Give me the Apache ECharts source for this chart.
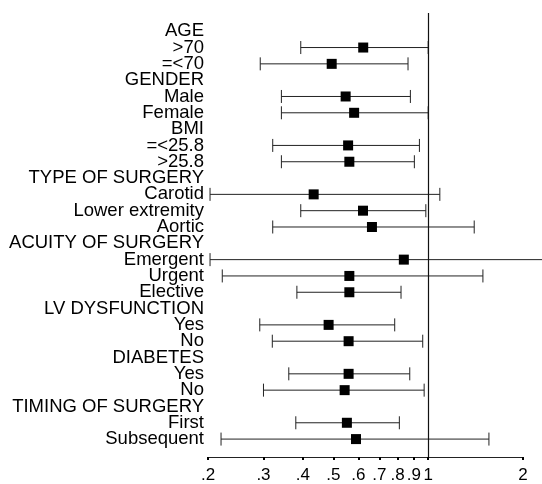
<!DOCTYPE html>
<html lang="en">
<head>
    <meta charset="UTF-8">
    <title>Forest plot</title>
    <script src="https://cdn.jsdelivr.net/npm/echarts@6/dist/echarts.min.js"></script>
    <style>
        html, body { margin: 0; padding: 0; background: #fff; }
        #main { width: 542px; height: 484px; }
    </style>
</head>
<body>
    <div id="main"></div>
    <script>
        // row labels, top to bottom
        var rowLabels = ['AGE', '>70', '=<70', 'GENDER', 'Male', 'Female', 'BMI', '=<25.8', '>25.8',
            'TYPE OF SURGERY', 'Carotid', 'Lower extremity', 'Aortic', 'ACUITY OF SURGERY',
            'Emergent', 'Urgent', 'Elective', 'LV DYSFUNCTION', 'Yes', 'No', 'DIABETES', 'Yes', 'No',
            'TIMING OF SURGERY', 'First', 'Subsequent'];
        // estimates (null for header rows)
        var estimate = [null, 0.622, 0.494, null, 0.547, 0.582, null, 0.557, 0.562,
            null, 0.433, 0.621, 0.663, null, 0.837, 0.562, 0.562, null, 0.483, 0.559, null, 0.559, 0.543,
            null, 0.552, 0.590];
        var lower = [null, 0.394, 0.293, null, 0.342, 0.342, null, 0.321, 0.342,
            null, 0.203, 0.394, 0.321, null, 0.203, 0.222, 0.383, null, 0.292, 0.320, null, 0.361, 0.300,
            null, 0.380, 0.220];
        var upper = [null, 1.0, 0.863, null, 0.878, 1.0, null, 0.938, 0.904,
            null, 1.089, 0.983, 1.400, null, 3.0, 1.492, 0.820, null, 0.783, 0.961, null, 0.874, 0.971,
            null, 0.810, 1.559];
        // x axis ticks
        var tickValues = [0.2, 0.3, 0.4, 0.5, 0.6, 0.7, 0.8, 0.9, 1, 2];
        var tickLabels = ['.2', '.3', '.4', '.5', '.6', '.7', '.8', '.9', '1', '2'];

        var lg = function (v) { return Math.log10(v); };

        var data = [];
        for (var i = 0; i < rowLabels.length; i++) {
            if (estimate[i] == null) continue;
            data.push([lg(lower[i]), lg(upper[i]), lg(estimate[i]), i]);
        }
        // row labels drawn at the left edge of the plot
        var labelData = rowLabels.map(function (name, i) { return { value: [lg(0.2), i], name: name }; });

        var tickPos = tickValues.map(lg);

        var myChart = echarts.init(document.getElementById('main'));
        var option = {
            animation: false,
            textStyle: { fontFamily: 'Liberation Sans, Arial, sans-serif' },
            grid: { left: 208, right: 19, top: 13, bottom: 25 },
            xAxis: {
                type: 'value',
                position: 'bottom',
                min: lg(0.2),
                max: lg(2),
                axisLine: { show: true, onZero: false, lineStyle: { color: '#222', width: 1 } },
                axisTick: { show: true, length: 3, customValues: tickPos, lineStyle: { color: '#000', width: 2 } },
                splitLine: { show: false },
                axisLabel: {
                    customValues: tickPos,
                    margin: 10,
                    fontSize: 17,
                    color: '#000',
                    hideOverlap: false,
                    formatter: function (v) {
                        for (var k = 0; k < tickPos.length; k++) {
                            if (Math.abs(tickPos[k] - v) < 1e-6) return tickLabels[k];
                        }
                        return '';
                    }
                }
            },
            yAxis: {
                type: 'value',
                inverse: true,
                min: -1.117,
                max: 26.098,
                axisLine: { show: false, onZero: false },
                axisTick: { show: false },
                splitLine: { show: false },
                axisLabel: { show: false }
            },
            series: [{
                type: 'custom',
                clip: false,
                data: data,
                renderItem: function (params, api) {
                    var y = api.coord([0, api.value(3)])[1];
                    var x0 = api.coord([api.value(0), 0])[0];
                    var x1 = api.coord([api.value(1), 0])[0];
                    var xm = api.coord([api.value(2), 0])[0];
                    var st = { stroke: '#222', lineWidth: 1 };
                    var cap = 6.5;
                    return {
                        type: 'group',
                        children: [
                            { type: 'line', shape: { x1: x0, y1: y, x2: x1, y2: y }, style: st },
                            { type: 'line', shape: { x1: x0, y1: y - cap, x2: x0, y2: y + cap }, style: st },
                            { type: 'line', shape: { x1: x1, y1: y - cap, x2: x1, y2: y + cap }, style: st },
                            { type: 'rect', shape: { x: xm - 5, y: y - 5, width: 10, height: 10 }, style: { fill: '#000' } }
                        ]
                    };
                },
                markLine: {
                    silent: true,
                    symbol: 'none',
                    label: { show: false },
                    lineStyle: { color: '#111', width: 1.2, type: 'solid' },
                    data: [{ xAxis: 0 }]
                }
            }, {
                type: 'scatter',
                silent: true,
                clip: false,
                symbolSize: 0,
                itemStyle: { opacity: 1 },
                data: labelData,
                label: {
                    show: true,
                    position: 'left',
                    distance: 4,
                    fontSize: 18.5,
                    color: '#000',
                    formatter: function (p) { return p.name; }
                },
                labelLayout: { hideOverlap: false }
            }]
        };
        myChart.setOption(option);
    </script>
</body>
</html>
